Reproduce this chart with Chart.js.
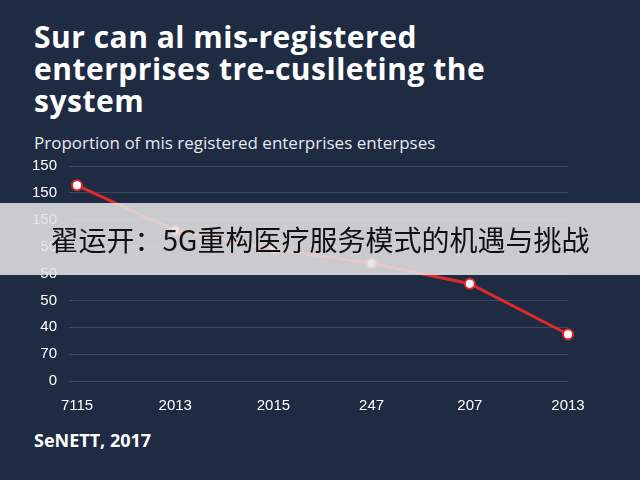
<!DOCTYPE html>
<html><head><meta charset="utf-8">
<script src="https://cdn.jsdelivr.net/npm/chart.js@4"></script>
<style>
body{margin:0;width:640px;height:480px;background:#1e2b42;overflow:hidden;font-family:"Open Sans",sans-serif;position:relative}
#t{position:absolute;left:34px;top:21px;color:#fff;font:bold 30px/32px "Open Sans",sans-serif;letter-spacing:0.5px;white-space:nowrap}
#s{position:absolute;left:34px;top:131px;color:#e6e9ef;font:17px "Open Sans",sans-serif}
#f{position:absolute;left:34px;top:428px;color:#fff;font:bold 18px "Open Sans",sans-serif}
#b{position:absolute;left:0;top:203px;width:640px;height:72px;background:rgba(225,225,225,0.88);color:#111;font:28px "Noto Sans CJK SC",sans-serif;line-height:72px;text-align:center}
#c{position:absolute;left:0;top:145px}
</style></head><body>
<div id="t">Sur can al mis-registered<br>enterprises tre-cuslleting the<br>system</div>
<div id="s">Proportion of mis registered enterprises enterpses</div>
<canvas id="c" width="640" height="278"></canvas>
<div id="f">SeNETT, 2017</div>
<div id="b">翟运开：5G重构医疗服务模式的机遇与挑战</div>
<script>
const categories=["7115","2013","2015","247","207","2013"];
const values=[7.28,5.6,4.9,4.38,3.62,1.74];
const yTickLabels=["0","70","40","50","50","50","150","150","150"];
new Chart(document.getElementById('c'),{type:'line',
data:{labels:categories,datasets:[{data:values,borderColor:'#e02a2a',borderWidth:3,pointBackgroundColor:'#fff',pointBorderColor:'#e02a2a',pointBorderWidth:2,pointRadius:5,tension:0}]},
options:{responsive:false,animation:false,plugins:{legend:{display:false},tooltip:{enabled:false}},
layout:{padding:{left:20,right:72,top:2,bottom:0}},
scales:{x:{offset:false,grid:{display:false},border:{display:false},ticks:{color:'#fff',font:{size:15},padding:8}},
y:{min:0,max:8,grid:{color:'rgba(255,255,255,0.15)'},border:{display:false},ticks:{stepSize:1,color:'#fff',font:{size:15},padding:12,callback:v=>yTickLabels[v]}}}}});
</script></body></html>
